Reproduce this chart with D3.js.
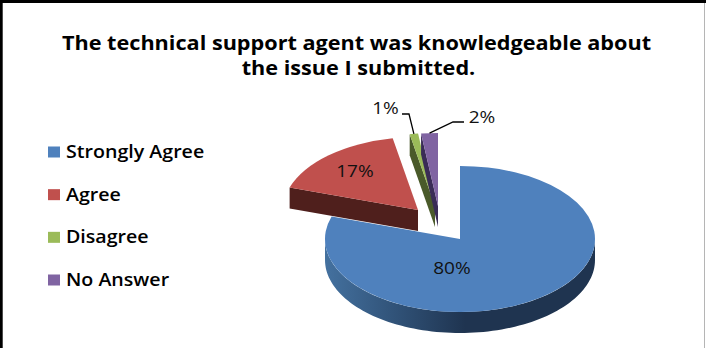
<!DOCTYPE html>
<html>
<head>
<meta charset="utf-8">
<script src="https://cdn.jsdelivr.net/npm/d3@7/dist/d3.min.js"></script>
<style>
  html, body { margin: 0; padding: 0; background: #fff; }
  svg { display: block; }
</style>
</head>
<body>
<svg id="chart" width="706" height="348"></svg>
<script>
// Survey responses
const categories = ["Strongly Agree", "Agree", "Disagree", "No Answer"];
const shares = [80, 17, 1, 2];
const titleLines = ["The technical support agent was knowledgeable about", "the issue I submitted."];

// Slice colours: top face and cut wall
const topColors = ["#4f81bd", "#c0504d", "#9bbb59", "#8064a2"];
const wallColors = ["#1f3450", "#4f1f1c", "#4a5a2a", "#3a2c56"];

// Tilted pie geometry
const cx = 460, cy = 239, rx = 135, ry = 73, depth = 21;
const explode = [[0, 0], [-42, -29], [-25, -33], [-22, -33]];
const labelAnchors = [[452, 268], [355, 171], [385.5, 108], [482, 117]];
// Leader lines run from the label to an elbow, then to a point on the slice rim
const leaders = { 2: { from: [402, 114], elbow: [409, 114] }, 3: { from: [464, 122], elbow: [453, 122] } };

const svg = d3.select("#chart");
const fontFamily = "'Open Sans', 'Noto Sans', sans-serif";

// Widen text horizontally to the chart's broad letterforms
const widen = (sel, factor) => sel.each(function () {
  d3.select(this)
    .attr("textLength", this.getComputedTextLength() * factor)
    .attr("lengthAdjust", "spacingAndGlyphs");
});

// Frame
svg.append("path").attr("d", "M704.5,3V348").attr("stroke", "#b5b5b5").attr("stroke-width", 1).attr("fill", "none");
svg.append("path").attr("d", "M1.2,348V1.5H706").attr("stroke", "#000").attr("stroke-width", 3).attr("fill", "none");

// Title
svg.append("g").selectAll("text").data(titleLines).join("text")
  .attr("x", (d, i) => 356.5 + i * 2)
  .attr("y", (d, i) => 50 + i * 25)
  .attr("text-anchor", "middle")
  .attr("font-family", fontFamily)
  .attr("font-weight", 700)
  .attr("font-size", 19.5)
  .attr("fill", "#000")
  .text(d => d)
  .call(widen, 1.11);

// Legend
const legendY = d3.scalePoint().domain(categories).range([152, 280]);
const legend = svg.append("g").selectAll("g").data(categories).join("g")
  .attr("transform", d => `translate(48,${legendY(d)})`);
legend.append("rect").attr("x", 0).attr("y", -5.5).attr("width", 12).attr("height", 11)
  .attr("fill", (d, i) => topColors[i]);
legend.append("text").attr("x", 18).attr("y", 6)
  .attr("font-family", fontFamily).attr("font-weight", 600).attr("font-size", 17.5)
  .attr("fill", "#000").text(d => d)
  .call(widen, 1.12);

// Pie
const pie = d3.pie().sort(null).value(d => d);
const slices = pie(shares);
const arc = d3.arc().innerRadius(0).outerRadius(rx);
const rim = (theta, i, drop = 0) => [
  cx + explode[i][0] + rx * Math.sin(theta),
  cy + explode[i][1] + drop - ry * Math.cos(theta)
];
const hub = (i, drop = 0) => [cx + explode[i][0], cy + explode[i][1] + drop];

const defs = svg.append("defs");
const sideGrad = defs.append("linearGradient").attr("id", "blueSide")
  .attr("gradientUnits", "userSpaceOnUse")
  .attr("x1", cx - rx).attr("x2", cx + rx).attr("y1", 0).attr("y2", 0);
[[0, "#44719f"], [0.28, "#2f5075"], [0.52, "#1f3450"], [1, "#1f3450"]]
  .forEach(([o, c]) => sideGrad.append("stop").attr("offset", o).attr("stop-color", c));

const pieG = svg.append("g");

// Front band of the large slice
const bandTop = d3.range(90, 270.5, 2).map(a => rim(a * Math.PI / 180, 0));
const bandBottom = d3.range(270, 89.5, -2).map(a => rim(a * Math.PI / 180, 0, depth));
pieG.append("path")
  .attr("d", d3.line()(bandTop.concat(bandBottom)) + "Z")
  .attr("fill", "url(#blueSide)");

const drawTop = (d, i) => pieG.append("path")
  .attr("d", arc(d))
  .attr("transform", `translate(${hub(i)}) scale(1,${ry / rx})`)
  .attr("fill", topColors[i]);

// Cut wall hanging under the radial edge that faces the viewer
const drawWall = (angle, i) => {
  const a = hub(i), b = rim(angle, i);
  pieG.append("path")
    .attr("d", d3.line()([a, b, rim(angle, i, depth), hub(i, depth)]) + "Z")
    .attr("fill", wallColors[i]);
};

drawTop(slices[0], 0);
slices.slice(1).forEach((d, k) => {
  const i = k + 1;
  drawWall(d.startAngle, i);
  drawTop(d, i);
});

// Leader lines
Object.entries(leaders).forEach(([key, l]) => {
  const i = +key, d = slices[i];
  const end = rim((d.startAngle + d.endAngle) / 2, i);
  svg.append("path").attr("d", d3.line()([l.from, l.elbow, end]))
    .attr("fill", "none").attr("stroke", "#000").attr("stroke-width", 1.3);
});

// Value labels
svg.append("g").selectAll("text").data(shares).join("text")
  .attr("x", (d, i) => labelAnchors[i][0])
  .attr("y", (d, i) => labelAnchors[i][1])
  .attr("dy", "0.36em")
  .attr("text-anchor", "middle")
  .attr("font-family", fontFamily)
  .attr("font-size", 17)
  .attr("fill", "#111")
  .text(d => `${d}%`)
  .call(widen, 1.12);
</script>
</body>
</html>
